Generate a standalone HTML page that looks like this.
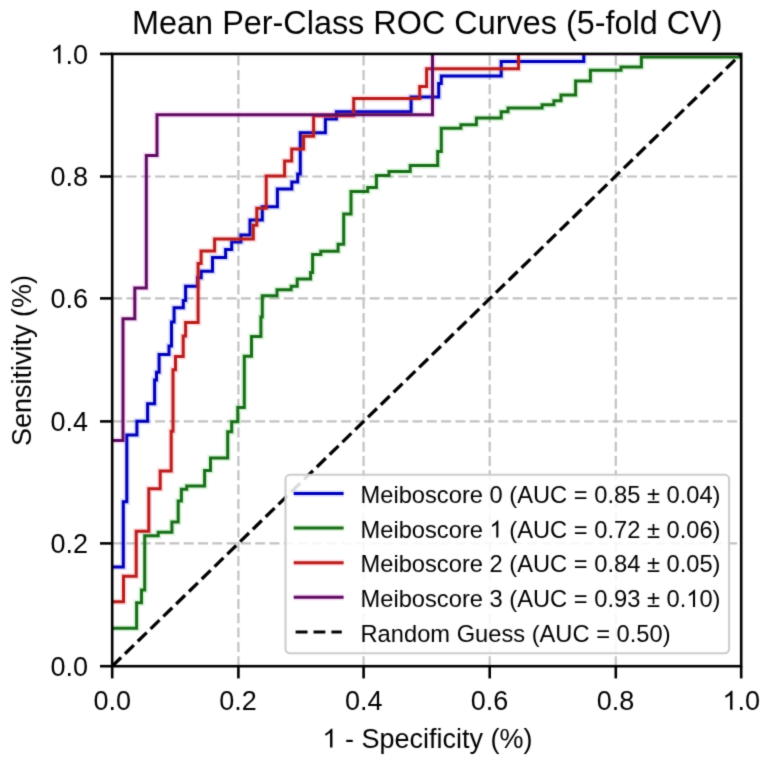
<!DOCTYPE html>
<html><head><meta charset="utf-8"><style>
html,body{margin:0;padding:0;background:#fff;overflow:hidden}
svg{display:block}
text{font-family:"Liberation Sans",sans-serif;fill:#000}
</style></head><body>
<svg width="768" height="763" viewBox="0 0 768 763">
<defs><filter id="fb" x="0" y="0" width="768" height="763" filterUnits="userSpaceOnUse" color-interpolation-filters="sRGB"><feConvolveMatrix order="3" kernelMatrix="0.01960 0.10080 0.01960 0.10080 0.51840 0.10080 0.01960 0.10080 0.01960" divisor="1" edgeMode="duplicate"/></filter></defs>
<g filter="url(#fb)">
<rect x="0" y="0" width="768" height="763" fill="#fff"/>
<line x1="238.40" y1="666.2" x2="238.40" y2="53.9" stroke="#c2c2c2" stroke-width="2.2" stroke-dasharray="10 4.3"/>
<line x1="112.2" y1="543.40" x2="741.2" y2="543.40" stroke="#c2c2c2" stroke-width="2.2" stroke-dasharray="10 4.3"/>
<line x1="363.60" y1="666.2" x2="363.60" y2="53.9" stroke="#c2c2c2" stroke-width="2.2" stroke-dasharray="10 4.3"/>
<line x1="112.2" y1="421.40" x2="741.2" y2="421.40" stroke="#c2c2c2" stroke-width="2.2" stroke-dasharray="10 4.3"/>
<line x1="489.70" y1="666.2" x2="489.70" y2="53.9" stroke="#c2c2c2" stroke-width="2.2" stroke-dasharray="10 4.3"/>
<line x1="112.2" y1="298.40" x2="741.2" y2="298.40" stroke="#c2c2c2" stroke-width="2.2" stroke-dasharray="10 4.3"/>
<line x1="615.80" y1="666.2" x2="615.80" y2="53.9" stroke="#c2c2c2" stroke-width="2.2" stroke-dasharray="10 4.3"/>
<line x1="112.2" y1="176.50" x2="741.2" y2="176.50" stroke="#c2c2c2" stroke-width="2.2" stroke-dasharray="10 4.3"/>
<defs><clipPath id="pa"><rect x="112.2" y="53.9" width="629.00" height="612.30"/></clipPath></defs>
<g clip-path="url(#pa)">
<path d="M 112.2 567.0 H 123.3 V 501.8 H 126.8 V 434.9 H 136.9 V 421.2 H 147.6 V 403.7 H 154.6 V 380.1 H 156.5 V 372.3 H 159.1 V 354.6 H 169.0 V 346 H 171.5 V 321.9 H 174.1 V 307.7 H 183.3 V 300.4 H 185.6 V 286.2 H 197.6 V 277.8 H 201.2 V 271.3 H 212.5 V 257.5 H 225.6 V 249.4 H 231.7 V 242.1 H 240.9 V 235.0 H 250.0 V 219.9 H 262.3 V 206.8 H 277.4 V 189.1 H 291.8 V 181.9 H 297.7 V 174.1 H 300.3 V 132.7 H 325.4 V 119.0 H 336.4 V 111.8 H 411.1 V 96.9 H 438.7 V 83.4 H 441.3 V 76.0 H 501.2 V 61.5 H 583.8 V 52.3 H 741.2" fill="none" stroke="#3030ff" stroke-opacity="0.16" stroke-width="6.5" stroke-linejoin="miter" stroke-linecap="square"/>
<path d="M 112.2 567.0 H 123.3 V 501.8 H 126.8 V 434.9 H 136.9 V 421.2 H 147.6 V 403.7 H 154.6 V 380.1 H 156.5 V 372.3 H 159.1 V 354.6 H 169.0 V 346 H 171.5 V 321.9 H 174.1 V 307.7 H 183.3 V 300.4 H 185.6 V 286.2 H 197.6 V 277.8 H 201.2 V 271.3 H 212.5 V 257.5 H 225.6 V 249.4 H 231.7 V 242.1 H 240.9 V 235.0 H 250.0 V 219.9 H 262.3 V 206.8 H 277.4 V 189.1 H 291.8 V 181.9 H 297.7 V 174.1 H 300.3 V 132.7 H 325.4 V 119.0 H 336.4 V 111.8 H 411.1 V 96.9 H 438.7 V 83.4 H 441.3 V 76.0 H 501.2 V 61.5 H 583.8 V 52.3 H 741.2" fill="none" stroke="#0000b8" stroke-width="3.0" stroke-linejoin="miter" stroke-linecap="square"/>
<path d="M 112.2 628.2 H 136.6 V 602.8 H 141.5 V 590.0 H 144.7 V 535.8 H 158.2 V 532.3 H 171.9 V 522.1 H 178.2 V 501.1 H 181.4 V 489.3 H 186.7 V 486.0 H 204.6 V 470.5 H 210.5 V 458.0 H 227.7 V 431.8 H 231.7 V 421.7 H 237.8 V 407.5 H 244.3 V 356.2 H 251.5 V 336.5 H 260.9 V 316.9 H 262.3 V 295.8 H 277.0 V 289.8 H 291.2 V 286.3 H 297.2 V 278.9 H 310.6 V 272.6 H 312.6 V 254.5 H 320.8 V 251.3 H 338.1 V 244.3 H 343.7 V 214.0 H 351.0 V 191.5 H 367.7 V 187.6 H 376.4 V 175.4 H 389.0 V 171.4 H 410.2 V 165.6 H 437.7 V 151.5 H 441.3 V 128.3 H 460.9 V 124.7 H 476.4 V 118.0 H 501.2 V 111.8 H 508.0 V 107.9 H 542.1 V 104.8 H 553.9 V 100.8 H 561.0 V 95.0 H 575.6 V 80.9 H 590.4 V 70.2 H 621.0 V 67.1 H 641.4 V 57.0 H 741.2" fill="none" stroke="#20c020" stroke-opacity="0.16" stroke-width="6.5" stroke-linejoin="miter" stroke-linecap="square"/>
<path d="M 112.2 628.2 H 136.6 V 602.8 H 141.5 V 590.0 H 144.7 V 535.8 H 158.2 V 532.3 H 171.9 V 522.1 H 178.2 V 501.1 H 181.4 V 489.3 H 186.7 V 486.0 H 204.6 V 470.5 H 210.5 V 458.0 H 227.7 V 431.8 H 231.7 V 421.7 H 237.8 V 407.5 H 244.3 V 356.2 H 251.5 V 336.5 H 260.9 V 316.9 H 262.3 V 295.8 H 277.0 V 289.8 H 291.2 V 286.3 H 297.2 V 278.9 H 310.6 V 272.6 H 312.6 V 254.5 H 320.8 V 251.3 H 338.1 V 244.3 H 343.7 V 214.0 H 351.0 V 191.5 H 367.7 V 187.6 H 376.4 V 175.4 H 389.0 V 171.4 H 410.2 V 165.6 H 437.7 V 151.5 H 441.3 V 128.3 H 460.9 V 124.7 H 476.4 V 118.0 H 501.2 V 111.8 H 508.0 V 107.9 H 542.1 V 104.8 H 553.9 V 100.8 H 561.0 V 95.0 H 575.6 V 80.9 H 590.4 V 70.2 H 621.0 V 67.1 H 641.4 V 57.0 H 741.2" fill="none" stroke="#1a6e1a" stroke-width="3.0" stroke-linejoin="miter" stroke-linecap="square"/>
<path d="M 112.2 601.8 H 123.5 V 576.2 H 136.2 V 531.3 H 148.8 V 488.7 H 160.2 V 471.0 H 171.2 V 431.3 H 173.0 V 369.7 H 175.5 V 356.6 H 183.2 V 336.0 H 185.6 V 322.4 H 198.1 V 263.4 H 201.1 V 251.0 H 214.6 V 238.9 H 253.3 V 225.2 H 256.8 V 208.2 H 266.2 V 176.0 H 284.6 V 161.0 H 291.7 V 148.9 H 303.6 V 136.3 H 313.6 V 115.8 H 353.7 V 98.5 H 419.7 V 86.4 H 426.6 V 68.7 H 518.5 V 52.3 H 741.2" fill="none" stroke="#ff3040" stroke-opacity="0.16" stroke-width="6.5" stroke-linejoin="miter" stroke-linecap="square"/>
<path d="M 112.2 601.8 H 123.5 V 576.2 H 136.2 V 531.3 H 148.8 V 488.7 H 160.2 V 471.0 H 171.2 V 431.3 H 173.0 V 369.7 H 175.5 V 356.6 H 183.2 V 336.0 H 185.6 V 322.4 H 198.1 V 263.4 H 201.1 V 251.0 H 214.6 V 238.9 H 253.3 V 225.2 H 256.8 V 208.2 H 266.2 V 176.0 H 284.6 V 161.0 H 291.7 V 148.9 H 303.6 V 136.3 H 313.6 V 115.8 H 353.7 V 98.5 H 419.7 V 86.4 H 426.6 V 68.7 H 518.5 V 52.3 H 741.2" fill="none" stroke="#b81e1e" stroke-width="3.0" stroke-linejoin="miter" stroke-linecap="square"/>
<path d="M 112.2 440.4 H 123.0 V 318.8 H 134.8 V 288.1 H 146.3 V 155.5 H 157.0 V 114.7 H 432.5 V 52.3 H 741.2" fill="none" stroke="#e040e0" stroke-opacity="0.16" stroke-width="6.5" stroke-linejoin="miter" stroke-linecap="square"/>
<path d="M 112.2 440.4 H 123.0 V 318.8 H 134.8 V 288.1 H 146.3 V 155.5 H 157.0 V 114.7 H 432.5 V 52.3 H 741.2" fill="none" stroke="#5e0e5e" stroke-width="3.0" stroke-linejoin="miter" stroke-linecap="square"/>
<line x1="112.2" y1="666.2" x2="741.2" y2="53.9" stroke="#000" stroke-width="3.3" stroke-dasharray="12.45 5.4"/>
</g>
<rect x="285.5" y="474.8" width="443.6" height="178.5" rx="4.5" ry="4.5" fill="#fff" fill-opacity="0.86" stroke="#cccccc" stroke-width="2.1"/>
<line x1="293.7" y1="493.40" x2="343.6" y2="493.40" stroke="#3030ff" stroke-opacity="0.16" stroke-width="6.5"/>
<line x1="293.7" y1="493.40" x2="343.6" y2="493.40" stroke="#0000b8" stroke-width="3.0"/>
<text id="t1" x="360.5" y="502.95" font-size="23.7" transform="matrix(1 0 0 1.035 0 -17.603)">Meiboscore 0 (AUC = 0.85 ± 0.04)</text>
<line x1="293.7" y1="528.05" x2="343.6" y2="528.05" stroke="#20c020" stroke-opacity="0.16" stroke-width="6.5"/>
<line x1="293.7" y1="528.05" x2="343.6" y2="528.05" stroke="#1a6e1a" stroke-width="3.0"/>
<text id="t2" x="360.5" y="537.6" font-size="23.7" transform="matrix(1 0 0 1.035 0 -18.816)">Meiboscore   (AUC = 0.72 ± 0.06)</text>
<line x1="293.7" y1="562.70" x2="343.6" y2="562.70" stroke="#ff3040" stroke-opacity="0.16" stroke-width="6.5"/>
<line x1="293.7" y1="562.70" x2="343.6" y2="562.70" stroke="#b81e1e" stroke-width="3.0"/>
<text id="t3" x="360.5" y="572.25" font-size="23.7" transform="matrix(1 0 0 1.035 0 -20.029)">Meiboscore 2 (AUC = 0.84 ± 0.05)</text>
<line x1="293.7" y1="597.35" x2="343.6" y2="597.35" stroke="#e040e0" stroke-opacity="0.16" stroke-width="6.5"/>
<line x1="293.7" y1="597.35" x2="343.6" y2="597.35" stroke="#5e0e5e" stroke-width="3.0"/>
<text id="t4" x="360.5" y="606.9" font-size="23.7" transform="matrix(1 0 0 1.035 0 -21.241)">Meiboscore 3 (AUC = 0.93 ± 0. 0)</text>
<line x1="295.6" y1="632.00" x2="341.8" y2="632.00" stroke="#000" stroke-width="3.1" stroke-dasharray="11.9 6"/>
<text id="t5" x="360.5" y="641.55" font-size="23.7" transform="matrix(1 0 0 1.035 0 -22.454)">Random Guess (AUC = 0.50)</text>
<rect x="112.2" y="53.9" width="629.00" height="612.30" fill="none" stroke="#000" stroke-width="2.6" stroke-linejoin="miter"/>
<line x1="112.20" y1="666.2" x2="112.20" y2="678.4000000000001" stroke="#000" stroke-width="2.6"/>
<line x1="100.0" y1="666.20" x2="112.2" y2="666.20" stroke="#000" stroke-width="2.6"/>
<text id="t6" x="112.2" y="709.7" font-size="27" text-anchor="middle">0.0</text>
<text id="t7" x="88.0" y="675.9" font-size="27" text-anchor="end">0.0</text>
<line x1="238.40" y1="666.2" x2="238.40" y2="678.4000000000001" stroke="#000" stroke-width="2.6"/>
<line x1="100.0" y1="543.40" x2="112.2" y2="543.40" stroke="#000" stroke-width="2.6"/>
<text id="t8" x="238.0" y="709.7" font-size="27" text-anchor="middle">0.2</text>
<text id="t9" x="88.0" y="553.1" font-size="27" text-anchor="end">0.2</text>
<line x1="363.60" y1="666.2" x2="363.60" y2="678.4000000000001" stroke="#000" stroke-width="2.6"/>
<line x1="100.0" y1="421.40" x2="112.2" y2="421.40" stroke="#000" stroke-width="2.6"/>
<text id="t10" x="363.8" y="709.7" font-size="27" text-anchor="middle">0.4</text>
<text id="t11" x="88.0" y="431.1" font-size="27" text-anchor="end">0.4</text>
<line x1="489.70" y1="666.2" x2="489.70" y2="678.4000000000001" stroke="#000" stroke-width="2.6"/>
<line x1="100.0" y1="298.40" x2="112.2" y2="298.40" stroke="#000" stroke-width="2.6"/>
<text id="t12" x="489.6" y="709.7" font-size="27" text-anchor="middle">0.6</text>
<text id="t13" x="88.0" y="308.1" font-size="27" text-anchor="end">0.6</text>
<line x1="615.80" y1="666.2" x2="615.80" y2="678.4000000000001" stroke="#000" stroke-width="2.6"/>
<line x1="100.0" y1="176.50" x2="112.2" y2="176.50" stroke="#000" stroke-width="2.6"/>
<text id="t14" x="615.4" y="709.7" font-size="27" text-anchor="middle">0.8</text>
<text id="t15" x="88.0" y="186.2" font-size="27" text-anchor="end">0.8</text>
<line x1="741.20" y1="666.2" x2="741.20" y2="678.4000000000001" stroke="#000" stroke-width="2.6"/>
<line x1="100.0" y1="53.90" x2="112.2" y2="53.90" stroke="#000" stroke-width="2.6"/>
<text id="t16" x="741.2" y="709.7" font-size="27" text-anchor="middle"> .0</text>
<text id="t17" x="88.0" y="63.6" font-size="27" text-anchor="end"> .0</text>
<text x="427.3" y="33.8" font-size="32.4" text-anchor="middle">Mean Per-Class ROC Curves (5-fold CV)</text>
<text id="t18" x="427.4" y="747.6" font-size="27" text-anchor="middle">  - Specificity (%)</text>
<text transform="translate(30.5 360.6) rotate(-90)" x="0" y="0" font-size="27" text-anchor="middle">Sensitivity (%)</text>
<path d="M763 0L583 0L583 1147Q518 1085 415 1024.5Q312 964 223 931L223 1105Q375 1176 481 1270Q587 1364 655 1466L763 1466Z" transform="matrix(1 0 0 1.035 0 -18.816) translate(489.53 537.6) scale(0.011572 -0.011289)"/>
<path d="M763 0L583 0L583 1147Q518 1085 415 1024.5Q312 964 223 931L223 1105Q375 1176 481 1270Q587 1364 655 1466L763 1466Z" transform="matrix(1 0 0 1.035 0 -21.241) translate(686.24 606.9) scale(0.011572 -0.011289)"/>
<path d="M763 0L583 0L583 1147Q518 1085 415 1024.5Q312 964 223 931L223 1105Q375 1176 481 1270Q587 1364 655 1466L763 1466Z" transform=" translate(722.43 709.7) scale(0.013184 -0.012861)"/>
<path d="M763 0L583 0L583 1147Q518 1085 415 1024.5Q312 964 223 931L223 1105Q375 1176 481 1270Q587 1364 655 1466L763 1466Z" transform=" translate(50.45 63.6) scale(0.013184 -0.012861)"/>
<path d="M763 0L583 0L583 1147Q518 1085 415 1024.5Q312 964 223 931L223 1105Q375 1176 481 1270Q587 1364 655 1466L763 1466Z" transform=" translate(322.38 747.6) scale(0.013184 -0.012861)"/>
</g></svg>
</body></html>
